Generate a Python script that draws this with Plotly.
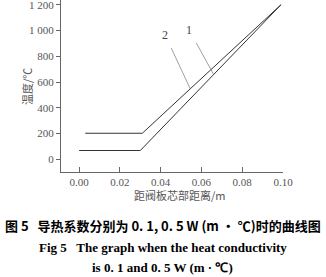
import plotly.graph_objects as go

# Data
x_line1 = [0.000, 0.030, 0.050, 0.070, 0.099]
y_line1 = [68, 68, 396, 724, 1200]
x_line2 = [0.003, 0.031, 0.050, 0.070, 0.099]
y_line2 = [202, 202, 481, 775, 1200]

x_ticks = [0.00, 0.02, 0.04, 0.06, 0.08, 0.10]
x_ticktext = ["0.00", "0.02", "0.04", "0.06", "0.08", "0.10"]
y_ticks = [0, 200, 400, 600, 800, 1000, 1200]
y_ticktext = ["0", "200", "400", "600", "800", "1 000", "1 200"]

line_labels = ["1", "2"]
label_tip = [(0.066, 658), (0.0545, 547)]
label_pos = [(0.0540, 1002), (0.0422, 965)]

serif = "Liberation Serif, Times New Roman, serif"
cjk = "Noto Sans CJK SC, sans-serif"

fig = go.Figure()
fig.add_trace(go.Scatter(x=x_line1, y=y_line1, mode="lines",
                         line=dict(color="#333333", width=1), showlegend=False))
fig.add_trace(go.Scatter(x=x_line2, y=y_line2, mode="lines",
                         line=dict(color="#333333", width=1), showlegend=False))

for t, tip, pos in zip(line_labels, label_tip, label_pos):
    fig.add_annotation(x=tip[0], y=tip[1], ax=pos[0], ay=pos[1],
                       xref="x", yref="y", axref="x", ayref="y",
                       text=t, showarrow=True, arrowhead=0, arrowwidth=0.7,
                       arrowcolor="#777777", standoff=0, startstandoff=5,
                       font=dict(family=serif, size=12, color="#444444"))

def note(x, y, text, font, angle=0):
    fig.add_annotation(x=x, y=y, xref="paper", yref="paper", text=text,
                       showarrow=False, xanchor="center", yanchor="middle",
                       textangle=angle, font=font)

# axis titles
note(0.536, -0.134, "距阀板芯部距离/m", dict(family=cjk, size=11, color="#555555"))
note(-0.153, 0.494, "温度/℃", dict(family=cjk, size=11, color="#555555"), angle=-90)

# caption
note(0.459, -0.313, "<b>图 5   导热系数分别为 0. 1, 0. 5 W (m · ℃)时的曲线图</b>",
     dict(family=cjk, size=13, color="#000000"))
note(0.459, -0.44, "<b>Fig 5   The graph when the heat conductivity</b>",
     dict(family=serif, size=13, color="#000000"))
note(0.459, -0.558, "<b>is 0. 1 and 0. 5 W (m · ℃)</b>",
     dict(family=serif, size=13, color="#000000"))

fig.update_xaxes(range=[-0.0089, 0.1], tickvals=x_ticks, ticktext=x_ticktext,
                 showline=True, linecolor="#666666", linewidth=1,
                 ticks="inside", ticklen=5, tickcolor="#666666",
                 showgrid=False, zeroline=False,
                 tickfont=dict(family=serif, size=11, color="#555555"))
fig.update_yaxes(range=[-99, 1237], tickvals=y_ticks, ticktext=y_ticktext,
                 showline=True, linecolor="#666666", linewidth=1,
                 ticks="outside", ticklen=4, tickcolor="#666666",
                 showgrid=False, zeroline=False, ticklabeloverflow="allow",
                 tickfont=dict(family=serif, size=11, color="#555555"))

fig.update_layout(width=326, height=277,
                  margin=dict(l=61, r=43, t=0, b=105, autoexpand=False),
                  plot_bgcolor="white", paper_bgcolor="white")

fig.write_html("out.html")
